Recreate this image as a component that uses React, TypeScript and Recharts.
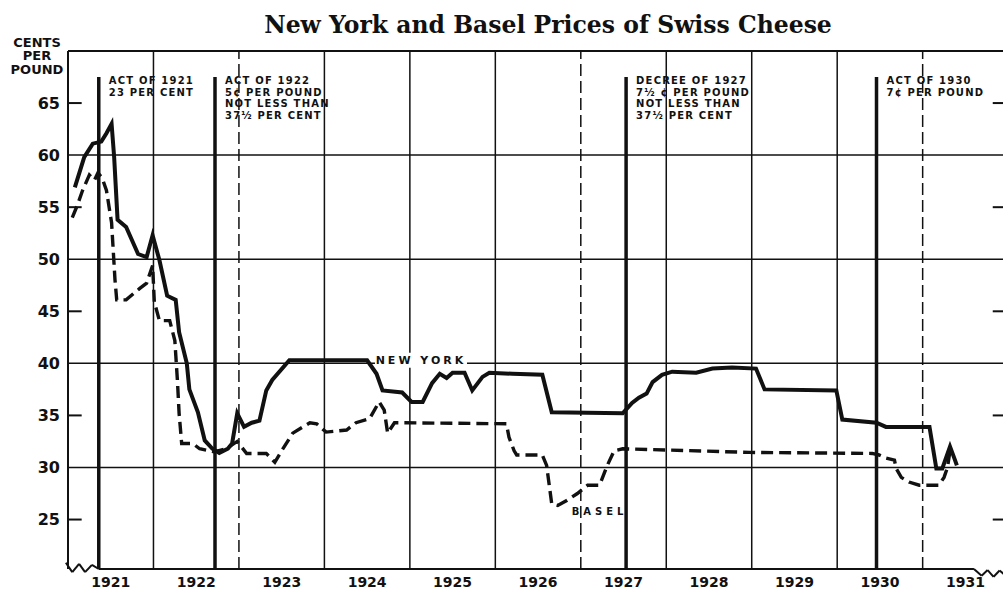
import {LineChart, Line, XAxis, YAxis, ReferenceLine, ReferenceDot} from 'recharts';

// price series (decimal year, cents per pound)
const NY_DATES = [
    1921.08, 1921.19, 1921.29, 1921.39, 1921.45, 1921.51, 1921.54, 1921.58, 1921.68, 1921.82,
    1921.92, 1921.99, 1922.07, 1922.16, 1922.26, 1922.30, 1922.39, 1922.42, 1922.52, 1922.60,
    1922.69, 1922.77, 1922.87, 1922.92, 1922.98, 1923.06, 1923.15, 1923.24, 1923.32, 1923.39,
    1923.59, 1924.50, 1924.61, 1924.68, 1924.91, 1925.02, 1925.15, 1925.26, 1925.35, 1925.43,
    1925.50, 1925.64, 1925.73, 1925.85, 1925.93, 1926.20, 1926.55, 1926.66, 1927.49, 1927.60,
    1927.68, 1927.77, 1927.84, 1927.95, 1928.07, 1928.35, 1928.54, 1928.77, 1929.05, 1929.15,
    1929.99, 1930.06, 1930.46, 1930.57, 1931.08, 1931.16, 1931.23, 1931.32, 1931.37, 1931.40
];
const NY_PRICES = [
    56.9, 59.8, 61.1, 61.3, 62.1, 63.0, 59.8, 53.8, 53.1, 50.5,
    50.2, 52.3, 49.9, 46.5, 46.1, 43.0, 40.0, 37.5, 35.3, 32.6,
    31.8, 31.4, 31.8, 32.3, 35.2, 33.9, 34.3, 34.5, 37.4, 38.4,
    40.3, 40.3, 39.0, 37.4, 37.2, 36.3, 36.3, 38.1, 39.0, 38.6,
    39.1, 39.1, 37.4, 38.7, 39.1, 39.0, 38.9, 35.3, 35.2, 36.2,
    36.7, 37.1, 38.2, 38.9, 39.2, 39.1, 39.5, 39.6, 39.5, 37.5,
    37.4, 34.6, 34.3, 33.9, 33.9, 29.9, 29.9, 32.0, 30.9, 30.2
];

const BASEL_DATES = [
    1921.05, 1921.11, 1921.17, 1921.25, 1921.31, 1921.35, 1921.40, 1921.45, 1921.51, 1921.55,
    1921.57, 1921.68, 1921.84, 1921.92, 1921.99, 1922.01, 1922.07, 1922.19, 1922.25, 1922.28,
    1922.30, 1922.33, 1922.46, 1922.54, 1922.71, 1922.85, 1922.98, 1923.09, 1923.32, 1923.42,
    1923.50, 1923.63, 1923.83, 1923.91, 1924.02, 1924.26, 1924.37, 1924.53, 1924.64, 1924.70,
    1924.74, 1924.82, 1926.13, 1926.16, 1926.22, 1926.25, 1926.55, 1926.60, 1926.66, 1926.73,
    1926.83, 1926.96, 1927.08, 1927.22, 1927.31, 1927.39, 1927.49, 1928.97, 1930.41, 1930.49,
    1930.57, 1930.67, 1930.69, 1930.75, 1930.84, 1930.96, 1931.19, 1931.25, 1931.29, 1931.32
];
const BASEL_PRICES = [
    54.0, 55.2, 56.6, 58.1, 57.6, 58.3, 57.8, 56.6, 53.5, 48.0,
    46.1, 46.1, 47.2, 47.7, 49.4, 45.9, 44.1, 44.1, 42.2, 38.4,
    35.2, 32.3, 32.3, 31.8, 31.5, 31.8, 32.5, 31.35, 31.35, 30.5,
    31.6, 33.3, 34.3, 34.2, 33.4, 33.6, 34.3, 34.7, 36.3, 35.5,
    33.3, 34.3, 34.2, 32.9, 31.6, 31.2, 31.2, 30.2, 26.5, 26.35,
    26.8, 27.5, 28.3, 28.3, 30.2, 31.6, 31.8, 31.45, 31.35, 31.2,
    30.9, 30.7, 29.9, 29.05, 28.6, 28.3, 28.3, 29.05, 30.0, 31.6
];

// axes
const YEARS = [1921, 1922, 1923, 1924, 1925, 1926, 1927, 1928, 1929, 1930, 1931];
const YEAR_LINES = [1922, 1923, 1924, 1925, 1926, 1927, 1928, 1929, 1930, 1931];
const DASHED_YEAR_LINES = [1923, 1927, 1931];
const PRICE_TICKS = [25, 30, 35, 40, 45, 50, 55, 60, 65];
const GRID_PRICES = [30, 40, 50, 60, 70];
const SHORT_TICK_PRICES = [25, 35, 45, 55, 65];

// tariff changes
const ACT_DATES = [1921.36, 1922.72, 1927.53, 1930.46];
const ACT_NOTES = [
    ['ACT OF 1921', '23 PER CENT'],
    ['ACT OF 1922', '5¢ PER POUND', 'NOT LESS THAN', '37½ PER CENT'],
    ['DECREE OF 1927', '7½ ¢ PER POUND', 'NOT LESS THAN', '37½ PER CENT'],
    ['ACT OF 1930', '7¢ PER POUND']
];

const X_MIN = 1921;
const X_MAX = 1931.94;
const Y_MIN = 20.25;
const Y_MAX = 70;
const ACT_TOP = 67.5;

const nyData = NY_DATES.map((t, i) => ({t, price: NY_PRICES[i]}));
const baselData = BASEL_DATES.map((t, i) => ({t, price: BASEL_PRICES[i]}));

const FONT = "'DejaVu Sans', sans-serif";
const INK = '#111';

// small wavy break marks at the ends of the time axis
const LEFT_BREAK = [
    {x: 1920.975, y: 20.85}, {x: 1921.05, y: 19.95}, {x: 1921.13, y: 20.75},
    {x: 1921.2, y: 19.95}, {x: 1921.28, y: 20.65}, {x: 1921.36, y: 20.25}
];
const RIGHT_BREAK = [
    {x: 1931.6, y: 20.25}, {x: 1931.69, y: 19.6}, {x: 1931.76, y: 20.15},
    {x: 1931.83, y: 19.5}, {x: 1931.9, y: 20.1}, {x: 1931.96, y: 19.7}
];

interface NoteProps {
    viewBox?: {x: number; y: number};
    lines: string[];
}

const ActNote = ({viewBox, lines}: NoteProps) => {
    if (!viewBox) return null;
    const x = viewBox.x + 10;
    return (
        <text x={x} y={viewBox.y + 7} fontSize={10} fontWeight="bold" fontFamily={FONT} fill={INK} letterSpacing={1.2}>
            {lines.map((l, i) => (
                <tspan key={i} x={x} dy={i === 0 ? 0 : 11.5}>{l}</tspan>
            ))}
        </text>
    );
};

interface SeriesLabelProps {
    viewBox?: {x: number; y: number};
    text: string;
    size: number;
    spacing: number;
    boxWidth: number;
}

const SeriesLabel = ({viewBox, text, size, spacing, boxWidth}: SeriesLabelProps) => {
    if (!viewBox) return null;
    const {x, y} = viewBox;
    return (
        <g>
            <rect x={x - boxWidth / 2} y={y - size / 2 - 2} width={boxWidth} height={size + 4} fill="#fff"/>
            <text x={x} y={y + size * 0.36} textAnchor="middle" fontSize={size} fontWeight="bold"
                  fontFamily={FONT} fill={INK} letterSpacing={spacing}>
                {text}
            </text>
        </g>
    );
};

const zigzag = (pts: {x: number; y: number}[], key: string) =>
    pts.slice(1).map((p, i) => (
        <ReferenceLine key={`${key}-${i}`} segment={[pts[i], p]} stroke={INK} strokeWidth={2}
                       ifOverflow="visible"/>
    ));

export default function App() {
    return (
        <div style={{position: 'absolute', left: 0, top: 0, width: 1003, height: 592, background: '#fff'}}>
            <LineChart width={1003} height={592} margin={{top: 51, right: 0, bottom: 0, left: 0}}>
                <XAxis
                    type="number"
                    dataKey="t"
                    domain={[X_MIN, X_MAX]}
                    ticks={YEARS.map(y => y + 0.5)}
                    tickFormatter={(v: number) => String(Math.floor(v))}
                    interval={0}
                    height={23}
                    axisLine={false}
                    tickLine={false}
                    tickMargin={2}
                    allowDataOverflow
                    tick={{fontSize: 14, fontWeight: 700, fill: INK, fontFamily: FONT}}
                />
                <YAxis
                    type="number"
                    domain={[Y_MIN, Y_MAX]}
                    ticks={PRICE_TICKS}
                    interval={0}
                    width={68}
                    axisLine={{stroke: INK, strokeWidth: 2}}
                    tickLine={false}
                    allowDataOverflow
                    tick={{fontSize: 16, fontWeight: 700, fill: INK, fontFamily: FONT}}
                />

                {GRID_PRICES.map(p => (
                    <ReferenceLine key={`h-${p}`} y={p} stroke={INK} strokeWidth={p === 70 ? 2 : 1.5} ifOverflow="visible"/>
                ))}
                {SHORT_TICK_PRICES.map(p => (
                    <ReferenceLine key={`lt-${p}`} segment={[{x: X_MIN, y: p}, {x: 1921.16, y: p}]}
                                   stroke={INK} strokeWidth={2} ifOverflow="visible"/>
                ))}
                {SHORT_TICK_PRICES.map(p => (
                    <ReferenceLine key={`rt-${p}`} segment={[{x: 1931.82, y: p}, {x: X_MAX, y: p}]}
                                   stroke={INK} strokeWidth={2} ifOverflow="visible"/>
                ))}
                {YEAR_LINES.map(y => (
                    <ReferenceLine key={`v-${y}`} x={y} stroke={INK} strokeWidth={1.5}
                                   strokeDasharray={DASHED_YEAR_LINES.includes(y) ? '12 5' : undefined}
                                   ifOverflow="visible"/>
                ))}

                <ReferenceLine segment={[{x: 1921.36, y: Y_MIN}, {x: 1931.6, y: Y_MIN}]} stroke={INK}
                               strokeWidth={2} ifOverflow="visible"/>
                {zigzag(LEFT_BREAK, 'lb')}
                {zigzag(RIGHT_BREAK, 'rb')}

                {ACT_DATES.map((t, i) => (
                    <ReferenceLine key={`act-${i}`} segment={[{x: t, y: ACT_TOP}, {x: t, y: Y_MIN}]}
                                   stroke={INK} strokeWidth={3.5} ifOverflow="visible"/>
                ))}
                {ACT_DATES.map((t, i) => (
                    <ReferenceDot key={`note-${i}`} x={t} y={ACT_TOP} r={0} fill="none" stroke="none"
                                  label={<ActNote lines={ACT_NOTES[i]}/>}/>
                ))}

                <Line data={baselData} dataKey="price" type="linear" stroke={INK} strokeWidth={3.4}
                      strokeDasharray="12 6" dot={false} isAnimationActive={false}/>
                <Line data={nyData} dataKey="price" type="linear" stroke={INK} strokeWidth={4}
                      dot={false} isAnimationActive={false}/>

                <ReferenceDot x={1925.13} y={40.3} r={0} fill="none" stroke="none"
                              label={<SeriesLabel text="NEW YORK" size={11} spacing={3} boxWidth={92}/>}/>
                <ReferenceDot x={1927.22} y={25.75} r={0} fill="none" stroke="none"
                              label={<SeriesLabel text="BASEL" size={10} spacing={4} boxWidth={0}/>}/>
            </LineChart>

            <svg width={1003} height={592} style={{position: 'absolute', left: 0, top: 0, pointerEvents: 'none'}}>
                <text x={548} y={33} textAnchor="middle" fontSize={23.5} fontWeight="bold"
                      fontFamily="'DejaVu Serif', serif" fill={INK}>
                    New York and Basel Prices of Swiss Cheese
                </text>
                <text x={37} textAnchor="middle" fontSize={13} fontWeight="bold" fontFamily={FONT} fill={INK}>
                    <tspan x={37} y={47}>CENTS</tspan>
                    <tspan x={37} y={60}>PER</tspan>
                    <tspan x={37} y={74}>POUND</tspan>
                </text>
            </svg>
        </div>
    );
}
